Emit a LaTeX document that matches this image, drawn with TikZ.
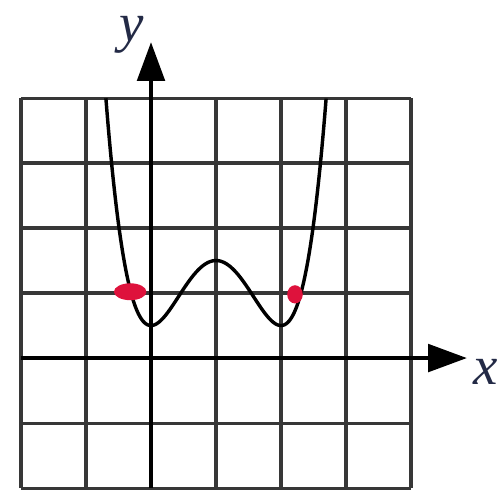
\documentclass[tikz,border=0pt]{standalone}
\usepackage{fontspec}
\setmainfont{Liberation Serif}
\usetikzlibrary{arrows.meta}
\definecolor{gridgray}{RGB}{55,55,55}
\definecolor{dotred}{RGB}{222,18,60}
\definecolor{labelink}{RGB}{35,42,70}

\begin{document}
\begin{tikzpicture}[line width=1.35pt,>={Triangle[length=17pt,width=12pt]},
  axislabel/.style={text=labelink,font=\fontsize{24}{24}\selectfont\itshape,inner sep=0pt}]
\useasboundingbox (-2.323,-2.015) rectangle (5.338,5.508);
% ---------- grid ----------
\draw[gridgray] (-2,-2) grid (4,4);
% ---------- axes ----------
\coordinate (xstart) at (-2,0);
\coordinate (xend) at (4.86,0);
\coordinate (ystart) at (0,-2);
\coordinate (yend) at (0,4.86);
\draw[line width=1.8pt,->] (xstart) -- (xend);
\draw[line width=1.8pt,->] (ystart) -- (yend);
\node[axislabel] (xlabel) at (5.15,-0.21) {x};
\node[axislabel] (ylabel) at (-0.29,4.97) {y};
% ---------- curve, two minima and a hump ----------
\draw[line width=1.5pt,domain=-0.694:2.694,samples=150,smooth]
  plot (\x,{(\x*(\x-2))*(\x*(\x-2))+0.5});
% ---------- marked points on y = 1 ----------
\fill[dotred] (-0.32,1.02) ellipse (0.25 and 0.13);
\fill[dotred] (2.215,0.98) ellipse (0.12 and 0.14);
\end{tikzpicture}
\end{document}
